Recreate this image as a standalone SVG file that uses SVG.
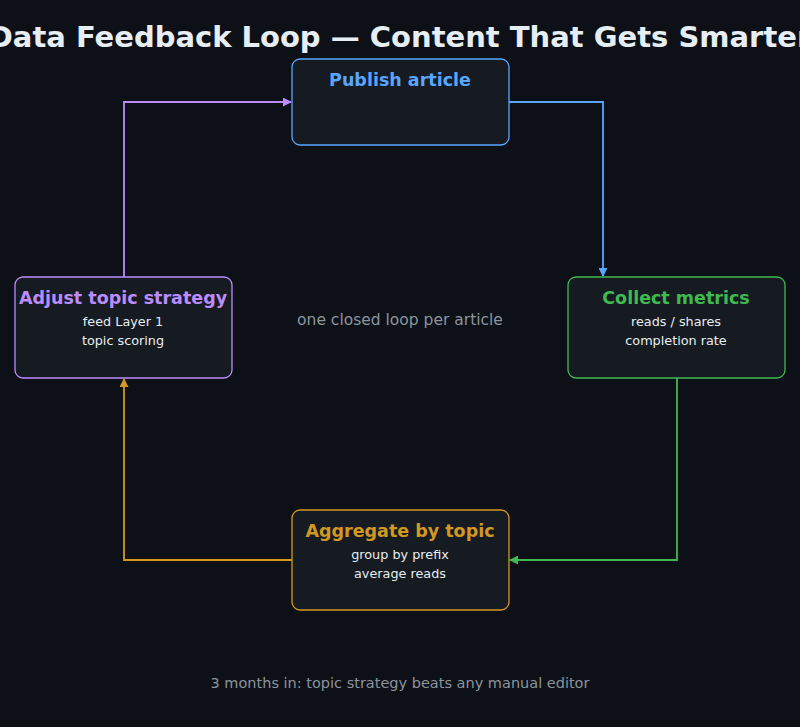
<svg xmlns="http://www.w3.org/2000/svg" width="800" height="727" viewBox="0 0 800 727">
<style>
text{font-family:"DejaVu Sans","Noto Sans",sans-serif;text-anchor:middle}
.box{fill:#161b22;stroke-width:1.3}
.t{font-size:17.5px;font-weight:bold}
.s{font-size:12.8px;fill:#e6edf3}
.c{fill:none;stroke-width:1.8}
.g{fill:#8b949e}
</style>
<defs>
<marker id="ab" viewBox="0 0 10 10" refX="9" refY="5" markerWidth="5" markerHeight="5" orient="auto"><path d="M0,0L10,5L0,10z" fill="#58a6ff"/></marker>
<marker id="ag" viewBox="0 0 10 10" refX="9" refY="5" markerWidth="5" markerHeight="5" orient="auto"><path d="M0,0L10,5L0,10z" fill="#3fb950"/></marker>
<marker id="ao" viewBox="0 0 10 10" refX="9" refY="5" markerWidth="5" markerHeight="5" orient="auto"><path d="M0,0L10,5L0,10z" fill="#d29922"/></marker>
<marker id="ap" viewBox="0 0 10 10" refX="9" refY="5" markerWidth="5" markerHeight="5" orient="auto"><path d="M0,0L10,5L0,10z" fill="#bc8cff"/></marker>
</defs>
<rect width="800" height="727" fill="#0d1117"/>
<text x="400" y="47" font-size="29" font-weight="bold" fill="#e6edf3">Data Feedback Loop — Content That Gets Smarter</text>
<g id="connectors">
<path class="c" stroke="#58a6ff" d="M509,102H603V276" marker-end="url(#ab)"/>
<path class="c" stroke="#3fb950" d="M677,378V560H510" marker-end="url(#ag)"/>
<path class="c" stroke="#d29922" d="M292,560H124V379" marker-end="url(#ao)"/>
<path class="c" stroke="#bc8cff" d="M124,277V102H291" marker-end="url(#ap)"/>
</g>
<g id="publish"><rect class="box" x="292" y="59" width="217" height="86" rx="8" stroke="#58a6ff"/><text class="t" x="400" y="86" fill="#58a6ff">Publish article</text></g>
<g id="collect"><rect class="box" x="568" y="277" width="217" height="101" rx="8" stroke="#3fb950"/><text class="t" x="676" y="304" fill="#3fb950">Collect metrics</text><text class="s" x="676" y="326">reads / shares</text><text class="s" x="676" y="345">completion rate</text></g>
<g id="aggregate"><rect class="box" x="292" y="510" width="217" height="100" rx="8" stroke="#d29922"/><text class="t" x="400" y="537" fill="#d29922">Aggregate by topic</text><text class="s" x="400" y="559">group by prefix</text><text class="s" x="400" y="578">average reads</text></g>
<g id="adjust"><rect class="box" x="15" y="277" width="217" height="101" rx="8" stroke="#bc8cff"/><text class="t" x="123" y="304" fill="#bc8cff">Adjust topic strategy</text><text class="s" x="123" y="326">feed Layer 1</text><text class="s" x="123" y="345">topic scoring</text></g>
<text class="g" x="400" y="325" font-size="15.5">one closed loop per article</text>
<text class="g" x="400" y="688" font-size="14.5">3 months in: topic strategy beats any manual editor</text>
</svg>
